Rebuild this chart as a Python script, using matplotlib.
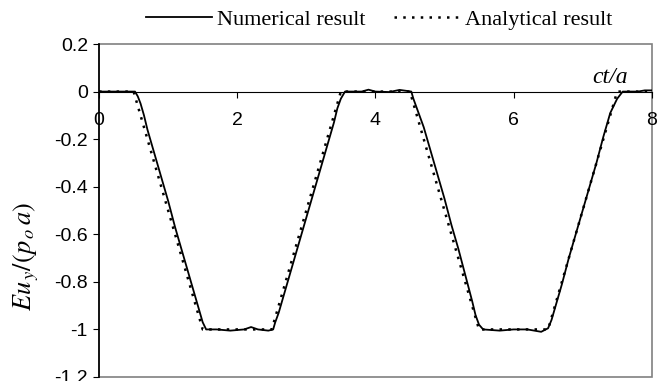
import numpy as np
import matplotlib.pyplot as plt
from matplotlib.patches import Rectangle

plt.rcParams['axes.unicode_minus'] = False
plt.rcParams['mathtext.fontset'] = 'stix'

# dimensionless time ct/a
t_num = [0.0, 0.45, 0.52, 0.56, 0.6, 0.65, 0.7, 0.8, 0.9, 1.0, 1.1, 1.2, 1.3, 1.4,
         1.45, 1.5, 1.55, 1.7, 1.9, 2.1, 2.2, 2.3, 2.45, 2.52, 2.55, 2.6, 2.7, 2.8,
         2.9, 3.0, 3.1, 3.2, 3.3, 3.4, 3.45, 3.5, 3.56, 3.8, 3.9, 4.0, 4.2, 4.35,
         4.45, 4.52, 4.55, 4.6, 4.7, 4.8, 4.9, 5.0, 5.1, 5.2, 5.3, 5.4, 5.45, 5.5,
         5.56, 5.8, 6.0, 6.2, 6.4, 6.5, 6.55, 6.6, 6.7, 6.8, 6.9, 7.0, 7.1, 7.2,
         7.3, 7.4, 7.5, 7.58, 7.8, 7.9, 8.0]
# numerical displacement Eu_y/(p0 a)
u_num = [0.0, 0.0, 0.0, -0.02, -0.05, -0.10, -0.16, -0.26, -0.36, -0.46, -0.57,
         -0.67, -0.77, -0.87, -0.92, -0.97, -1.0, -1.0, -1.005, -1.0, -0.99, -1.0,
         -1.005, -1.0, -0.97, -0.93, -0.83, -0.73, -0.63, -0.53, -0.43, -0.33,
         -0.23, -0.13, -0.07, -0.03, 0.0, 0.0, 0.008, 0.0, -0.002, 0.007, 0.003,
         0.0, -0.03, -0.07, -0.15, -0.25, -0.35, -0.45, -0.56, -0.66, -0.77, -0.88,
         -0.94, -0.98, -1.0, -1.005, -1.0, -1.0, -1.01, -0.995, -0.96, -0.91, -0.81,
         -0.70, -0.60, -0.50, -0.40, -0.30, -0.19, -0.09, -0.03, 0.0, 0.0, 0.005,
         0.005]

# analytical solution (piecewise linear)
t_ana = [0.0, 0.5, 1.5, 2.5, 3.5, 4.5, 5.5, 6.5, 7.5, 8.0]
u_ana = [0.0, 0.0, -1.0, -1.0, 0.0, 0.0, -1.0, -1.0, 0.0, 0.0]

x_ticks = [0, 2, 4, 6, 8]
y_ticks = [-1.2, -1.0, -0.8, -0.6, -0.4, -0.2, 0.0, 0.2]
y_labels = ['-1.2', '-1', '-0.8', '-0.6', '-0.4', '-0.2', '0', '0.2']

fig = plt.figure(figsize=(6.65, 3.81), dpi=100)
ax = fig.add_axes([0.149, 0.0105, 0.831, 0.874])

ax.plot(t_num, u_num, color='black', lw=1.3, label='Numerical result')
ax.plot(t_ana, u_ana, color='black', lw=1.8, linestyle=(0, (1, 2.5)),
        label='Analytical result')

ax.set_xlim(0, 8)
ax.set_ylim(-1.2, 0.2)

# plot-area border in grey, x axis crossing at zero
ax.add_patch(Rectangle((0, 0), 1, 1, transform=ax.transAxes, fill=False,
                       edgecolor='#808080', lw=1.2, clip_on=False, zorder=0))
for side in ['top', 'right']:
    ax.spines[side].set_visible(False)
ax.spines['bottom'].set_position(('data', 0))
ax.spines['bottom'].set_color('black')
ax.spines['left'].set_color('black')
ax.spines['left'].set_linewidth(1.2)

ax.set_xticks(x_ticks)
ax.set_xticklabels([str(v) for v in x_ticks], fontfamily='Liberation Sans', fontsize=14)
ax.set_yticks(y_ticks)
ax.set_yticklabels(y_labels, fontfamily='Liberation Sans', fontsize=14)
ax.tick_params(axis='x', direction='out', length=4, pad=11)
ax.tick_params(axis='y', direction='out', length=4, pad=4)

ax.set_ylabel(r'$Eu_{\,y}/(p_{\,o}\,a)$', fontsize=19)
ax.yaxis.set_label_coords(-0.105, 0.363)
ax.text(7.65, 0.035, 'ct/a', fontfamily='Liberation Serif', style='italic',
        fontsize=17, ha='right', va='baseline')

fig.legend(loc='center', bbox_to_anchor=(0.57, 0.948), ncol=2, frameon=False,
           prop={'family': 'Liberation Serif', 'size': 16}, handlelength=3.0,
           handletextpad=0.2, columnspacing=1.3)

fig.savefig('out.png', dpi=100)
